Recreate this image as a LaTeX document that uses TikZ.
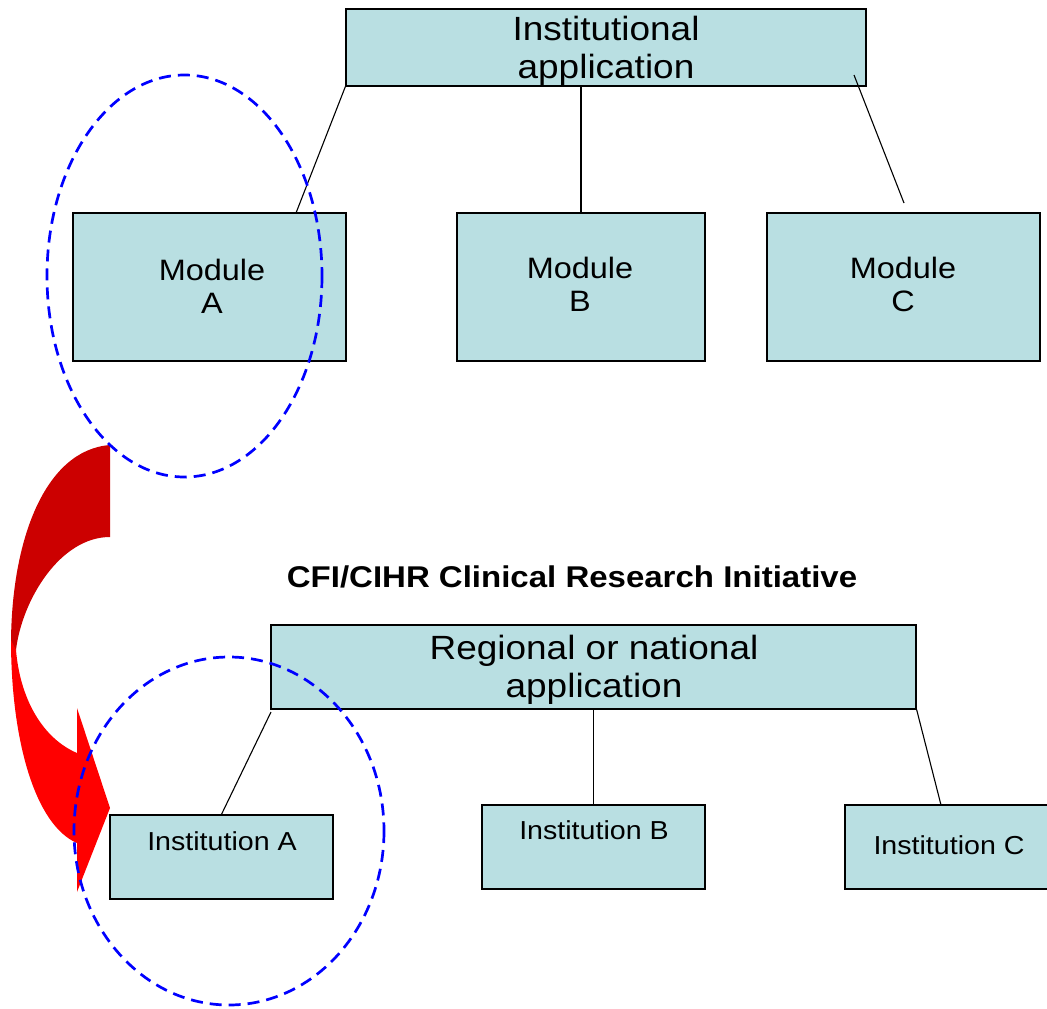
\documentclass[tikz,border=0pt]{standalone}
\usepackage{fontspec}
\setmainfont{Liberation Sans}[FakeStretch=1.1]
\usetikzlibrary{calc}
\definecolor{boxfill}{RGB}{185,223,226}
\definecolor{arrowdark}{RGB}{204,0,0}
\definecolor{arrowbright}{RGB}{255,0,0}
\definecolor{ovalblue}{RGB}{0,0,255}
\begin{document}
\begin{tikzpicture}[x=1pt,y=-1pt,
  box/.style={draw=black, fill=boxfill, line width=1.3pt, inner sep=0pt, rectangle},
  conn/.style={draw=black, line width=1.1pt},
  oval/.style={draw=ovalblue, line width=2.7pt, dash pattern=on 12pt off 7pt},
  bigtxt/.style={font=\fontsize{33.6}{38}\selectfont, align=center, inner sep=0pt},
  modtxt/.style={font=\fontsize{29.5}{33}\selectfont, align=center, inner sep=0pt},
  insttxt/.style={font=\fontsize{26}{30}\selectfont, align=center, inner sep=0pt},
  titletxt/.style={font=\bfseries\fontsize{30}{34}\selectfont, inner sep=0pt}
]
\useasboundingbox (0,0) rectangle (1047,1009);

% red curved arrow
\fill[arrowdark] (110,445) .. controls (45,450) and (11,540) .. (11,645)
  -- (16,650) .. controls (22,600) and (60,537) .. (110,537) -- cycle;
\fill[arrowbright] (11,640) .. controls (11,740) and (35,825) .. (77,843)
  -- (77,892) -- (110,808) -- (77,708) -- (77,753)
  .. controls (42,738) and (20,698) .. (16,650) -- cycle;

% top level
\node[box, minimum width=520, minimum height=77] (ia) at (606,47.5) {};
\node[bigtxt] (iat) at (606,51) {Institutional\\application};
\node[box, minimum width=273, minimum height=148] (ma) at (209.5,287) {};
\node[modtxt] (mat) at (212,286) {Module\\ A};
\node[box, minimum width=248, minimum height=148] (mb) at (581,287) {};
\node[modtxt] (mbt) at (580,284) {Module\\B};
\node[box, minimum width=273, minimum height=148] (mc) at (903.5,287) {};
\node[modtxt] (mct) at (903,284) {Module\\C};

\coordinate (maT) at (296,213);
\coordinate (cfreeA) at (854,75);
\coordinate (cfreeB) at (904,203);
\draw[conn] (ia.south west) -- (maT);
\draw[conn] (mb.north |- ia.south) -- (mb.north);
\draw[conn] (cfreeA) -- (cfreeB);

% title
\node[titletxt] (title) at (572,577) {CFI/CIHR Clinical Research Initiative};

% bottom level
\node[box, minimum width=645, minimum height=84] (ra) at (593.5,667) {};
\node[bigtxt] (rat) at (594,670) {Regional or national\\application};
\node[box, minimum width=223, minimum height=84] (ina) at (221.5,857) {};
\node[insttxt] (inat) at (222,841) {Institution A};
\node[box, minimum width=223, minimum height=84] (inb) at (593.5,847) {};
\node[insttxt] (inbt) at (594,830) {Institution B};
\node[box, minimum width=206, minimum height=84] (inc) at (948,847) {};
\node[insttxt] (inct) at (949,845) {Institution C};

\coordinate (raL) at (271,712);
\coordinate (incT) at (941,805);
\draw[conn] (raL) -- (ina.north);
\draw[conn] (ra.south) -- (inb.north);
\draw[conn] (ra.south east) -- (incT);

% dashed ovals
\draw[oval] (184.5,276) ellipse [x radius=137.5, y radius=201];
\draw[oval] (229,831) ellipse [x radius=155, y radius=174];
\end{tikzpicture}
\end{document}
